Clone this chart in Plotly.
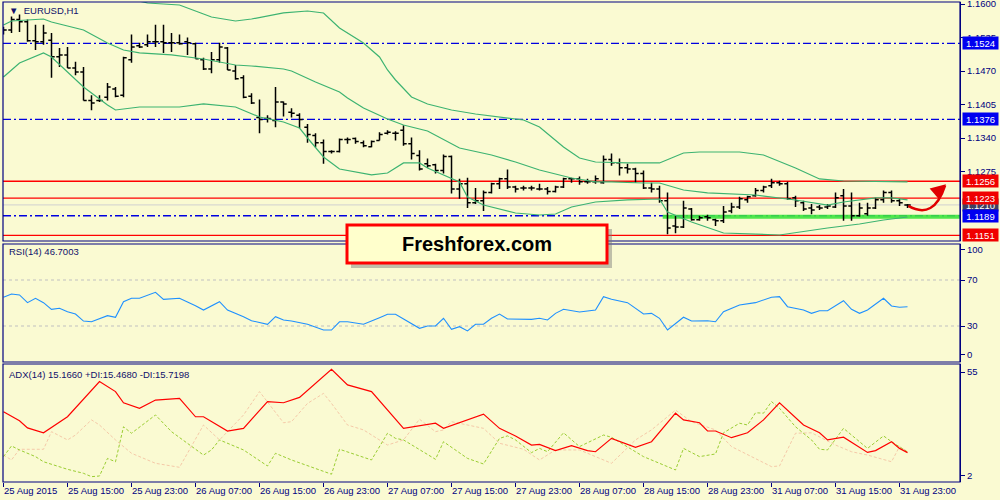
import plotly.graph_objects as go

# ---------------- data ----------------
tick_idx = [0, 8, 16, 24, 32, 40, 48, 56, 64, 72, 80, 88, 96, 104, 112]
tick_text = ["25 Aug 2015", "25 Aug 15:00", "25 Aug 23:00", "26 Aug 07:00", "26 Aug 15:00",
             "26 Aug 23:00", "27 Aug 07:00", "27 Aug 15:00", "27 Aug 23:00", "28 Aug 07:00",
             "28 Aug 15:00", "28 Aug 23:00", "31 Aug 07:00", "31 Aug 15:00", "31 Aug 23:00"]

bar_open = [1.1544, 1.1550, 1.1570, 1.1566, 1.1529, 1.1527, 1.1530, 1.1498, 1.1501, 1.1476,
            1.1468, 1.1413, 1.1413, 1.1419, 1.1435, 1.1423, 1.1492, 1.1519, 1.1521, 1.1527,
            1.1527, 1.1525, 1.1525, 1.1527, 1.1523, 1.1492, 1.1474, 1.1492, 1.1515, 1.1470,
            1.1457, 1.1421, 1.1380, 1.1378, 1.1374, 1.1410, 1.1390, 1.1384, 1.1361, 1.1345,
            1.1331, 1.1314, 1.1314, 1.1337, 1.1339, 1.1331, 1.1323, 1.1335, 1.1349, 1.1349,
            1.1355, 1.1329, 1.1306, 1.1290, 1.1288, 1.1277, 1.1304, 1.1241, 1.1251, 1.1214,
            1.1218, 1.1234, 1.1251, 1.1261, 1.1245, 1.1243, 1.1243, 1.1241, 1.1241, 1.1236,
            1.1245, 1.1261, 1.1261, 1.1255, 1.1255, 1.1253, 1.1298, 1.1292, 1.1282, 1.1280,
            1.1271, 1.1243, 1.1241, 1.1218, 1.1169, 1.1167, 1.1202, 1.1181, 1.1187, 1.1181,
            1.1179, 1.1198, 1.1206, 1.1220, 1.1228, 1.1238, 1.1247, 1.1253, 1.1251, 1.1224,
            1.1214, 1.1204, 1.1206, 1.1206, 1.1206, 1.1228, 1.1208, 1.1189, 1.1193, 1.1204,
            1.1220, 1.1234, 1.1218, 1.1210]
bar_high = [1.1556, 1.1576, 1.1580, 1.1570, 1.1560, 1.1560, 1.1544, 1.1515, 1.1517, 1.1488,
            1.1478, 1.1423, 1.1423, 1.1447, 1.1439, 1.1498, 1.1541, 1.1525, 1.1541, 1.1560,
            1.1560, 1.1544, 1.1541, 1.1535, 1.1525, 1.1496, 1.1507, 1.1525, 1.1517, 1.1482,
            1.1462, 1.1427, 1.1415, 1.1384, 1.1439, 1.1411, 1.1398, 1.1388, 1.1367, 1.1349,
            1.1337, 1.1316, 1.1339, 1.1341, 1.1341, 1.1335, 1.1335, 1.1351, 1.1355, 1.1353,
            1.1365, 1.1341, 1.1316, 1.1300, 1.1290, 1.1308, 1.1306, 1.1261, 1.1263, 1.1243,
            1.1238, 1.1253, 1.1263, 1.1279, 1.1247, 1.1247, 1.1247, 1.1251, 1.1245, 1.1247,
            1.1263, 1.1263, 1.1265, 1.1261, 1.1267, 1.1306, 1.1310, 1.1300, 1.1290, 1.1282,
            1.1277, 1.1253, 1.1247, 1.1234, 1.1189, 1.1218, 1.1204, 1.1189, 1.1191, 1.1183,
            1.1208, 1.1214, 1.1226, 1.1228, 1.1243, 1.1247, 1.1261, 1.1257, 1.1255, 1.1228,
            1.1218, 1.1212, 1.1210, 1.1212, 1.1234, 1.1241, 1.1234, 1.1214, 1.1214, 1.1224,
            1.1238, 1.1238, 1.1222, 1.1212]
bar_low = [1.1541, 1.1544, 1.1546, 1.1527, 1.1511, 1.1521, 1.1457, 1.1478, 1.1476, 1.1462,
           1.1413, 1.1394, 1.1410, 1.1413, 1.1419, 1.1419, 1.1486, 1.1515, 1.1517, 1.1517,
           1.1505, 1.1507, 1.1521, 1.1501, 1.1494, 1.1472, 1.1466, 1.1486, 1.1472, 1.1453,
           1.1417, 1.1406, 1.1349, 1.1370, 1.1361, 1.1382, 1.1380, 1.1359, 1.1331, 1.1322,
           1.1290, 1.1310, 1.1312, 1.1329, 1.1329, 1.1322, 1.1322, 1.1335, 1.1347, 1.1335,
           1.1325, 1.1298, 1.1277, 1.1282, 1.1271, 1.1271, 1.1232, 1.1222, 1.1204, 1.1212,
           1.1198, 1.1232, 1.1241, 1.1241, 1.1234, 1.1238, 1.1238, 1.1238, 1.1230, 1.1234,
           1.1243, 1.1253, 1.1249, 1.1251, 1.1251, 1.1251, 1.1286, 1.1267, 1.1271, 1.1253,
           1.1241, 1.1234, 1.1214, 1.1153, 1.1155, 1.1165, 1.1179, 1.1179, 1.1179, 1.1169,
           1.1175, 1.1194, 1.1202, 1.1214, 1.1226, 1.1234, 1.1243, 1.1247, 1.1220, 1.1206,
           1.1198, 1.1192, 1.1200, 1.1202, 1.1204, 1.1179, 1.1179, 1.1187, 1.1189, 1.1202,
           1.1214, 1.1214, 1.1208, 1.1204]
bar_close = [1.1550, 1.1570, 1.1566, 1.1529, 1.1527, 1.1544, 1.1498, 1.1501, 1.1476, 1.1468,
             1.1413, 1.1408, 1.1413, 1.1439, 1.1421, 1.1496, 1.1517, 1.1517, 1.1527, 1.1527,
             1.1525, 1.1525, 1.1523, 1.1525, 1.1494, 1.1474, 1.1492, 1.1517, 1.1472, 1.1455,
             1.1419, 1.1408, 1.1376, 1.1378, 1.1410, 1.1406, 1.1388, 1.1376, 1.1347, 1.1331,
             1.1314, 1.1314, 1.1337, 1.1337, 1.1333, 1.1325, 1.1333, 1.1347, 1.1351, 1.1349,
             1.1329, 1.1310, 1.1280, 1.1286, 1.1277, 1.1304, 1.1241, 1.1251, 1.1214, 1.1218,
             1.1234, 1.1251, 1.1261, 1.1245, 1.1241, 1.1243, 1.1243, 1.1241, 1.1236, 1.1245,
             1.1261, 1.1261, 1.1255, 1.1255, 1.1261, 1.1298, 1.1292, 1.1282, 1.1280, 1.1271,
             1.1243, 1.1241, 1.1218, 1.1165, 1.1167, 1.1204, 1.1181, 1.1185, 1.1185, 1.1179,
             1.1196, 1.1206, 1.1222, 1.1226, 1.1238, 1.1245, 1.1253, 1.1251, 1.1222, 1.1218,
             1.1202, 1.1200, 1.1204, 1.1208, 1.1224, 1.1208, 1.1189, 1.1204, 1.1204, 1.1220,
             1.1234, 1.1218, 1.1214, 1.1210]

bb_up_idx = [0, 9, 18, 22, 26, 29, 31, 35, 38, 40, 42, 45, 47, 48, 49, 51, 53, 56, 59, 62,
             65, 67, 70, 72, 74, 78, 82, 85, 87, 92, 95, 99, 102, 105, 113]
bb_up_val = [1.1660, 1.1635, 1.16023, 1.15984, 1.15751, 1.15673, 1.15712, 1.15829, 1.15867,
             1.15829, 1.15537, 1.15246, 1.14974, 1.14721, 1.14527, 1.14197, 1.14061, 1.13944,
             1.13866, 1.13808, 1.13750, 1.13614, 1.13225, 1.13012, 1.12934, 1.12915, 1.12915,
             1.13109, 1.13128, 1.13128, 1.13070, 1.12817, 1.12604, 1.12565, 1.12546]
bb_mid_idx = [0, 1, 5, 6, 10, 13, 15, 17, 21, 25, 29, 31, 35, 36, 39, 42, 43, 45, 48, 50,
              53, 57, 61, 64, 67, 71, 74, 76, 80, 82, 85, 88, 94, 96, 99, 103, 105, 109,
              111, 113]
bb_mid_val = [1.15595, 1.15673, 1.15712, 1.15654, 1.15498, 1.15246, 1.15110, 1.15052, 1.15013,
              1.14935, 1.14818, 1.14799, 1.14741, 1.14702, 1.14488, 1.14294, 1.14177, 1.13983,
              1.13769, 1.13653, 1.13536, 1.13206, 1.13070, 1.12934, 1.12779, 1.12623, 1.12546,
              1.12546, 1.12526, 1.12526, 1.12390, 1.12332, 1.12293, 1.12254, 1.12196, 1.12098,
              1.12157, 1.12235, 1.12235, 1.12196]
bb_low_idx = [0, 2, 5, 6, 10, 13, 14, 17, 22, 25, 29, 32, 35, 37, 38, 40, 42, 46, 48, 50,
              52, 53, 57, 58, 60, 64, 67, 69, 71, 74, 78, 82, 83, 86, 90, 97, 103, 107,
              110, 113]
bb_low_val = [1.14585, 1.14857, 1.15052, 1.14974, 1.14391, 1.14041, 1.13944, 1.14002, 1.14002,
              1.14061, 1.14002, 1.13808, 1.13711, 1.13594, 1.13400, 1.13031, 1.12798, 1.12682,
              1.12720, 1.12915, 1.12915, 1.12817, 1.12546, 1.12254, 1.12098, 1.11943, 1.11904,
              1.11923, 1.12060, 1.12157, 1.12196, 1.12215, 1.11962, 1.11768, 1.11554, 1.11516,
              1.11652, 1.11729, 1.11807, 1.11865]

rsi_idx = [0, 1, 2, 3, 4, 5, 6, 7, 8, 9, 10, 11, 13, 14, 15, 16, 17, 19, 20, 22, 24, 25, 27,
           28, 30, 31, 33, 34, 35, 36, 38, 40, 41, 42, 43, 45, 47, 48, 49, 51, 52, 53, 54,
           55, 56, 57, 58, 59, 60, 61, 62, 63, 65, 66, 67, 68, 69, 70, 72, 74, 75, 76, 78,
           80, 81, 82, 83, 85, 86, 88, 89, 90, 92, 94, 96, 97, 98, 100, 101, 102, 103, 105,
           106, 107, 108, 110, 111, 112, 113]
rsi_val = [55.0, 57.8, 57.0, 50.3, 54.1, 50.3, 44.5, 45.4, 42.4, 40.4, 34.3, 33.7, 39.0, 37.6,
           51.1, 54.1, 54.1, 59.3, 53.2, 54.1, 47.7, 43.9, 51.1, 43.9, 38.1, 34.6, 31.5, 38.1,
           35.2, 34.3, 31.5, 26.5, 26.5, 33.7, 33.7, 31.5, 37.2, 40.2, 40.2, 32.3, 28.0, 30.0,
           30.0, 36.7, 27.1, 29.4, 25.7, 31.5, 31.5, 36.7, 40.4, 36.1, 36.1, 35.8, 36.7, 35.2,
           41.0, 44.5, 42.2, 43.9, 55.5, 53.2, 50.3, 40.4, 41.0, 36.7, 26.5, 37.6, 34.3, 34.6,
           33.7, 42.4, 48.3, 50.3, 55.0, 55.5, 46.8, 43.9, 41.0, 43.3, 43.3, 52.0, 44.5, 41.0,
           43.9, 54.1, 47.4, 46.3, 46.7]

adx_idx = [0, 1, 2, 3, 5, 8, 12, 14, 15, 17, 19, 22, 24, 25, 28, 30, 33, 35, 37, 41, 43, 46,
           50, 54, 55, 60, 62, 64, 66, 67, 69, 71, 73, 74, 76, 79, 81, 84, 85, 87, 88, 89, 91,
           93, 95, 97, 98, 100, 102, 103, 105, 108, 109, 111, 112, 113]
adx_val = [33.6, 31.6, 29.5, 26.3, 24.1, 31.3, 47.1, 42.6, 37.6, 35.1, 38.8, 39.6, 31.3, 31.3,
           24.9, 26.1, 38.1, 37.6, 40.0, 52.6, 45.6, 42.6, 26.1, 28.4, 26.1, 32.5, 26.1, 22.7,
           18.6, 18.9, 16.1, 18.3, 16.1, 15.6, 21.6, 17.6, 20.1, 32.9, 29.9, 28.6, 24.9, 24.9,
           21.9, 24.1, 29.9, 37.6, 34.3, 27.6, 24.1, 20.9, 22.1, 15.3, 16.1, 20.1, 17.1, 15.2]
pdi_idx = [0, 1, 2, 4, 5, 8, 10, 11, 12, 13, 14, 15, 16, 19, 21, 24, 25, 26, 27, 30, 33, 34,
           36, 41, 42, 46, 48, 49, 50, 54, 55, 58, 60, 62, 63, 64, 66, 67, 68, 70, 72, 75, 76,
           80, 84, 85, 87, 89, 90, 92, 93, 94, 95, 96, 97, 99, 101, 102, 103, 105, 108, 110,
           111, 113]
pdi_val = [13.4, 18.2, 16.4, 13.4, 11.1, 7.7, 5.9, 4.4, 4.7, 12.6, 11.1, 26.8, 23.9, 32.1, 24.6,
           16.7, 14.1, 16.4, 20.9, 16.4, 9.2, 14.9, 11.9, 5.5, 16.7, 11.9, 23.9, 21.6, 20.9,
           12.2, 20.1, 12.6, 10.1, 21.6, 22.7, 20.9, 15.2, 17.1, 15.6, 24.1, 17.9, 23.1, 22.1,
           13.4, 7.4, 17.1, 13.4, 14.6, 24.1, 28.4, 27.6, 33.1, 32.9, 38.1, 35.1, 26.8, 20.9,
           16.7, 16.4, 26.1, 17.1, 22.7, 20.1, 15.5]
mdi_idx = [0, 1, 2, 5, 6, 8, 9, 11, 12, 14, 16, 19, 22, 25, 27, 30, 32, 34, 35, 36, 38, 40,
           41, 43, 45, 48, 50, 52, 54, 55, 56, 60, 62, 65, 67, 69, 72, 76, 79, 81, 84, 86, 89,
           91, 94, 96, 97, 99, 101, 104, 106, 108, 111, 112, 113]
mdi_val = [14.1, 11.9, 16.7, 16.7, 24.6, 20.9, 23.1, 29.9, 27.6, 20.9, 14.9, 10.4, 8.6, 27.6,
           20.9, 32.1, 42.6, 32.9, 28.6, 29.1, 37.3, 41.8, 37.3, 27.6, 25.4, 18.6, 20.9, 30.2,
           24.6, 25.4, 29.1, 26.1, 19.4, 16.7, 11.9, 16.4, 16.4, 10.4, 20.9, 25.4, 34.3, 29.1,
           25.4, 17.9, 12.6, 8.9, 9.2, 23.9, 24.1, 18.6, 15.6, 14.1, 11.1, 17.9, 15.7]

level_blue = [1.1524, 1.1376, 1.1189]
level_red = [1.1256, 1.1223, 1.1151]
bid_price = 1.1210
support_price = 1.1187
support_start = 82.4
price_ticks = [1.1600, 1.1535, 1.1470, 1.1405, 1.1340, 1.1275]
rsi_tick_vals = [4.8, 30, 70, 96.1]
rsi_tick_text = ["0", "30", "70", "100"]
rsi_levels = [30, 70]
adx_tick_vals = [4.9, 51.4]
adx_tick_text = ["2", "55"]
# hand-drawn arrow (bar index, price)
arrow_tail = (113.1, 1.1208)
arrow_ctrl = (116.3, 1.1180)
arrow_head = (117.7, 1.1248)

# ---------------- style ----------------
BG = "#FAFAD2"
NAVY = "#000080"
GREEN = "#3CB371"
FONT = "Liberation Sans, Arial, sans-serif"
X0, X1 = -0.0625, 119.56

fig = go.Figure()

for xi, yi in [(bb_up_idx, bb_up_val), (bb_mid_idx, bb_mid_val), (bb_low_idx, bb_low_val)]:
    fig.add_trace(go.Scatter(x=xi, y=yi, mode="lines", line=dict(color=GREEN, width=1.2),
                             xaxis="x", yaxis="y", hoverinfo="skip", showlegend=False))

fig.add_trace(go.Ohlc(x=list(range(len(bar_open))), open=bar_open, high=bar_high,
                      low=bar_low, close=bar_close, xaxis="x", yaxis="y",
                      increasing=dict(line=dict(color="black", width=1.5)),
                      decreasing=dict(line=dict(color="black", width=1.5)),
                      tickwidth=0.4, showlegend=False))

fig.add_trace(go.Scatter(x=rsi_idx, y=rsi_val, mode="lines", line=dict(color="#1E90FF", width=1.1),
                         xaxis="x", yaxis="y2", showlegend=False))

fig.add_trace(go.Scatter(x=mdi_idx, y=mdi_val, mode="lines",
                         line=dict(color="#F5C9A8", width=1, dash="3px,2px"),
                         xaxis="x", yaxis="y3", showlegend=False))
fig.add_trace(go.Scatter(x=pdi_idx, y=pdi_val, mode="lines",
                         line=dict(color="#9ACD32", width=1, dash="3px,2px"),
                         xaxis="x", yaxis="y3", showlegend=False))
fig.add_trace(go.Scatter(x=adx_idx, y=adx_val, mode="lines", line=dict(color="#FF0000", width=1.2),
                         xaxis="x", yaxis="y3", showlegend=False))

shapes = []
for v in level_blue:
    shapes.append(dict(type="line", xref="paper", yref="y", x0=0, x1=1, y0=v, y1=v,
                       line=dict(color="#0000E0", width=1.3, dash="8px,3px,2px,3px"), layer="below"))
for v in level_red:
    shapes.append(dict(type="line", xref="paper", yref="y", x0=0, x1=1, y0=v, y1=v,
                       line=dict(color="#FF0000", width=1.3), layer="below"))
shapes.append(dict(type="line", xref="paper", yref="y", x0=0, x1=1, y0=bid_price, y1=bid_price,
                   line=dict(color="#D0D0D0", width=1), layer="below"))
shapes.append(dict(type="line", xref="x", yref="y", x0=support_start, x1=X1,
                   y0=support_price, y1=support_price,
                   line=dict(color="#3DE63D", width=4), opacity=0.9, layer="below"))
for v in rsi_levels:
    shapes.append(dict(type="line", xref="paper", yref="y2", x0=0, x1=1, y0=v, y1=v,
                       line=dict(color="#C0C0C0", width=1, dash="3px,3px"), layer="below"))

H = 480.0
def py(px):
    return (482 - px) / H
for top, bot in [(2, 241), (244, 362), (364, 482)]:
    shapes.append(dict(type="rect", xref="paper", yref="paper", x0=0, x1=1,
                       y0=py(bot), y1=py(top), line=dict(color=NAVY, width=1.2),
                       fillcolor="rgba(0,0,0,0)", layer="above"))

shapes.append(dict(type="path", xref="x", yref="y",
                   path=f"M {arrow_tail[0]} {arrow_tail[1]} Q {arrow_ctrl[0]} {arrow_ctrl[1]} {arrow_head[0]} {arrow_head[1]}",
                   line=dict(color="#E00000", width=2.5), layer="above"))

PW = 957.0
def pxx(px):
    return (px - 3) / PW
shapes.append(dict(type="rect", xref="paper", yref="paper", x0=pxx(351), x1=pxx(612),
                   y0=py(268), y1=py(229), line=dict(width=0), fillcolor="rgba(120,120,120,0.45)",
                   layer="above"))
shapes.append(dict(type="rect", xref="paper", yref="paper", x0=pxx(347), x1=pxx(607),
                   y0=py(263), y1=py(225), line=dict(color="#FF0000", width=3), fillcolor="#FFFFCC",
                   layer="above"))

annotations = []
annotations.append(dict(xref="paper", yref="paper", x=pxx(477), y=py(244), text="<b>Freshforex.com</b>",
                        showarrow=False, font=dict(family=FONT, size=20, color="black")))
annotations.append(dict(xref="x", yref="y", x=arrow_head[0] + 0.1, y=arrow_head[1] + 0.0002,
                        ax=arrow_head[0] - 0.5, ay=arrow_head[1] - 0.0006, axref="x", ayref="y",
                        text="", showarrow=True, arrowhead=2, arrowsize=1.2, arrowwidth=2.5,
                        arrowcolor="#E00000"))
annotations.append(dict(xref="paper", yref="paper", x=pxx(7), y=py(10), xanchor="left", yanchor="middle",
                        text="\u25bc  EURUSD,H1", showarrow=False,
                        font=dict(family=FONT, size=9.5, color="#10106a")))
annotations.append(dict(xref="paper", yref="paper", x=pxx(7), y=py(252), xanchor="left", yanchor="middle",
                        text="RSI(14) 46.7003", showarrow=False,
                        font=dict(family=FONT, size=9.5, color="#10106a")))
annotations.append(dict(xref="paper", yref="paper", x=pxx(7), y=py(374), xanchor="left", yanchor="middle",
                        text="ADX(14) 15.1660 +DI:15.4680 -DI:15.7198", showarrow=False,
                        font=dict(family=FONT, size=9.5, color="#10106a")))
annotations.append(dict(xref="paper", yref="y", x=1, y=bid_price, xanchor="left", xshift=2,
                        text="1.1210", showarrow=False, width=35, height=12, borderpad=0,
                        bgcolor="#404060", font=dict(family=FONT, size=9.5, color="white")))
for v in level_blue:
    annotations.append(dict(xref="paper", yref="y", x=1, y=v, xanchor="left", xshift=2,
                            text=f"{v:.4f}", showarrow=False, width=35, height=12, borderpad=0,
                            bgcolor="#0000F0", font=dict(family=FONT, size=9.5, color="white")))
for v in level_red:
    annotations.append(dict(xref="paper", yref="y", x=1, y=v, xanchor="left", xshift=2,
                            text=f"{v:.4f}", showarrow=False, width=35, height=12, borderpad=0,
                            bgcolor="#F00000", font=dict(family=FONT, size=9.5, color="white")))

axis_font = dict(family=FONT, size=9.5, color=NAVY)
common_y = dict(side="right", showgrid=False, zeroline=False, showline=True, linecolor=NAVY,
                linewidth=1.2, ticks="outside", ticklen=4, tickcolor=NAVY, tickfont=axis_font,
                anchor="x", fixedrange=True, automargin=False, ticklabeloverflow="allow")

fig.update_layout(
    width=1000, height=500,
    margin=dict(l=3, r=40, t=2, b=18, autoexpand=False),
    paper_bgcolor=BG, plot_bgcolor=BG,
    showlegend=False,
    xaxis=dict(range=[X0, X1], anchor="y3", showgrid=False, zeroline=False, showline=False,
               tickvals=tick_idx, ticktext=tick_text, ticks="outside", ticklen=4, tickangle=0,
               tickcolor=NAVY, tickfont=axis_font, ticklabelposition="outside right",
               ticklabeloverflow="allow", automargin=False, rangeslider=dict(visible=False)),
    yaxis=dict(domain=[py(241), 1.0], range=[1.11399, 1.16042], tickvals=price_ticks,
               ticktext=[f"{v:.4f}" for v in price_ticks], **common_y),
    yaxis2=dict(domain=[py(362), py(244)], range=[-1.3, 101.3], tickvals=rsi_tick_vals,
                ticktext=rsi_tick_text, **common_y),
    yaxis3=dict(domain=[0, py(364)], range=[2, 55], tickvals=adx_tick_vals,
                ticktext=adx_tick_text, **common_y),
    shapes=shapes,
    annotations=annotations,
)

fig.write_html("out.html", config={"displayModeBar": False},
               post_script="document.body.style.margin='0';document.body.style.padding='0';"
                           "document.body.style.background='#FAFAD2';")
